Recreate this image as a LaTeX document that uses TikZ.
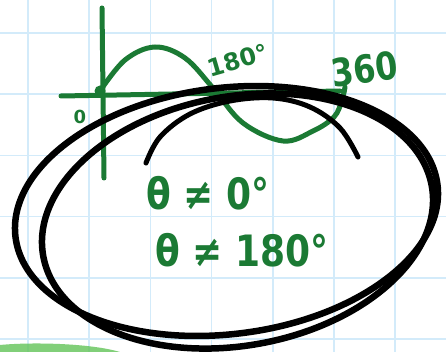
\documentclass[tikz,border=0pt]{standalone}
\usepackage{fontspec}
\setmainfont{DejaVu Sans}
\usepackage{xcolor}
\usepackage{tikz}
\usetikzlibrary{calc}
\definecolor{inkg}{HTML}{1B7A34}
\definecolor{gridc}{HTML}{D3EBFA}
\definecolor{smudge}{HTML}{62C458}
\tikzset{
  pen/.style={line width=5pt,inkg,line cap=round,line join=round},
  loopl/.style={line width=6.5pt,black,line cap=round,line join=round},
  lbl/.style={inkg,inner sep=0pt,font=\bfseries}
}

\begin{document}
\begin{tikzpicture}[x=1pt,y=-1pt]
\useasboundingbox (0,0) rectangle (446,352);
\fill[white] (0,0) rectangle (446,352);
% grid paper
\foreach \i in {0,...,6} \draw[gridc,line width=1.6pt] ({28+61.2*\i},0) -- ++(0,352);
\foreach \j in {0,...,5} \draw[gridc,line width=1.6pt] (0,{33+61.2*\j}) -- ++(446,0);
\fill[smudge,opacity=.8] (0,352) -- (0,345) .. controls (30,342) and (90,343) .. (120,352) -- cycle;
% axes and curve
\draw[pen] (102,8) -- (104,178);
\draw[pen] (61,96) -- (340,91);
\draw[pen] plot[smooth,tension=.6] coordinates {(100,91) (125,60) (155,47) (185,58) (213,88) (243,123) (283,141) (313,131) (334,117) (342,100) (345,87)};
\fill[inkg] (100,91) circle (5.5pt);
\node[lbl,font=\bfseries\fontsize{18}{18}\selectfont] (zero) at (80,117) {0};
\node[lbl,font=\bfseries\fontsize{24}{24}\selectfont,rotate=16] (half) at (238,60) {180°};
\node[lbl,font=\bfseries\fontsize{32}{32}\selectfont,rotate=8,yscale=1.2,transform shape] (full) at (365,69) {360};
% conditions
\node[lbl,font=\bfseries\fontsize{36}{36}\selectfont,anchor=west,yscale=1.2,transform shape] (ineqa) at (146,193) {θ ≠ 0°};
\node[lbl,font=\bfseries\fontsize{36}{36}\selectfont,anchor=west,yscale=1.2,transform shape] (ineqb) at (155,250) {θ ≠ 180°};
% loops round everything
\draw[loopl,rotate around={7.1:(226.5,211)}] (226.5,211) ellipse [x radius=212.6, y radius=123.1];
\draw[loopl,rotate around={10.25:(237.5,221)}] (237.5,221) ellipse [x radius=197.4, y radius=124.6];
\draw[loopl,line width=5pt] plot[smooth,tension=.6] coordinates {(146,163) (160,137) (190,114) (230,101) (273,98) (310,107) (340,128) (358,157)};
\end{tikzpicture}
\end{document}
